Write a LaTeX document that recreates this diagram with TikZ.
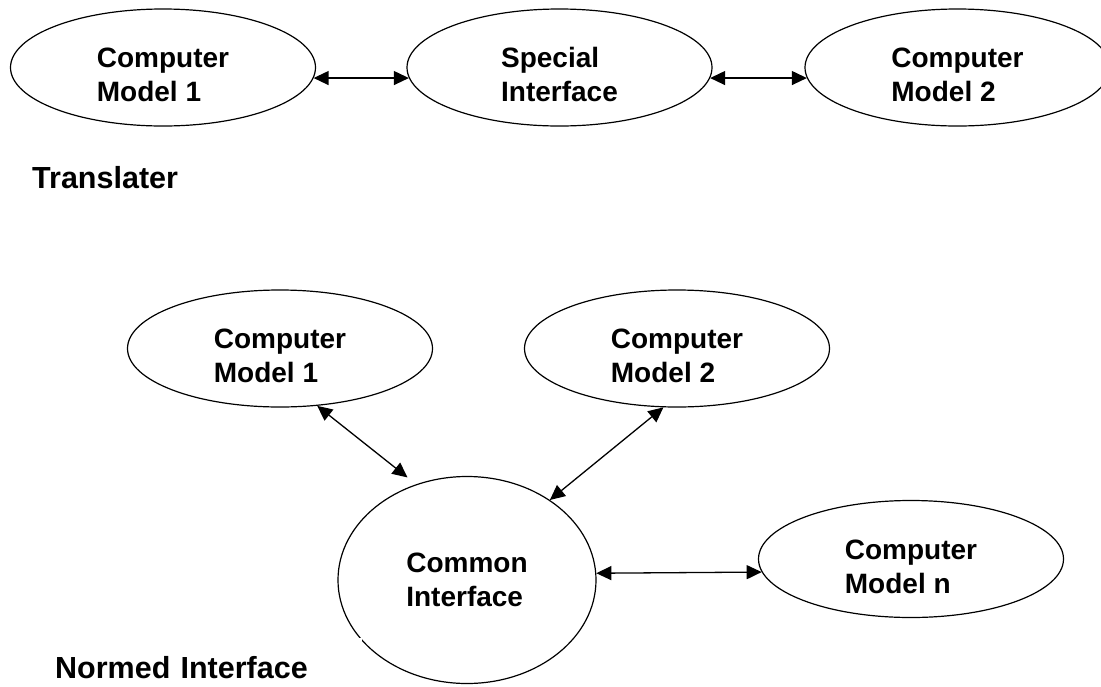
\documentclass[tikz,border=0pt]{standalone}
\usepackage{fontspec}
\setmainfont{Liberation Sans}
\usetikzlibrary{arrows.meta,shapes.geometric}

% two left-aligned lines; the box baseline is the first line
\newcommand\ovaltext[2]{\vtop{\hbox{#1}\hbox{#2}}}

\begin{document}
\begin{tikzpicture}[x=1pt,y=-1pt,
  oval/.style={ellipse, draw, line width=1.2pt, inner sep=0pt,
    minimum width=305pt, minimum height=117pt,
    font=\bfseries\fontsize{28}{34}\selectfont,
    text height=30pt, text depth=30pt},
  link/.style={{Triangle[length=15pt,width=14pt]}-{Triangle[length=15pt,width=14pt]},
    line width=1.3pt},
  caption/.style={font=\bfseries\fontsize{30.5}{36}\selectfont, inner sep=0pt}]
\useasboundingbox (0,0) rectangle (1101,686);

% translator arrangement
\node[oval] (ta) at (163,67.5)   {\ovaltext{Computer}{Model 1}};
\node[oval] (tb) at (559.5,67.5) {\ovaltext{Special}{Interface}};
\node[oval] (tc) at (957.5,67.5) {\ovaltext{Computer}{Model 2}};
\draw[link] (ta.-4.8) -- (tb.184.8);
\draw[link] (tb.-4.8) -- (tc.184.8);
\node[caption, anchor=base west] (transl) at (32,188) {Translater};

% normed interface arrangement
\node[oval] (b1) at (280,348.5) {\ovaltext{Computer}{Model 1}};
\node[oval] (b2) at (677,348.5) {\ovaltext{Computer}{Model 2}};
\node[oval, minimum width=258pt, minimum height=207pt,
      text height=20pt, text depth=36pt] (common) at (467,580) {\ovaltext{Common}{Interface}};
\node[oval] (bn) at (911,559) {\ovaltext{Computer}{Model n}};
\draw[link, shorten >=11pt] (b1.-57.5) -- (common.118);
\draw[link] (common.44.7) -- (b2.-103);
\draw[link] (common.3.6) -- (bn.185);
\node[caption, anchor=north west, fill=white, text width=307pt,
      text height=40pt, text depth=8pt] (normed) at (55,638) {Normed Interface};
\end{tikzpicture}
\end{document}
